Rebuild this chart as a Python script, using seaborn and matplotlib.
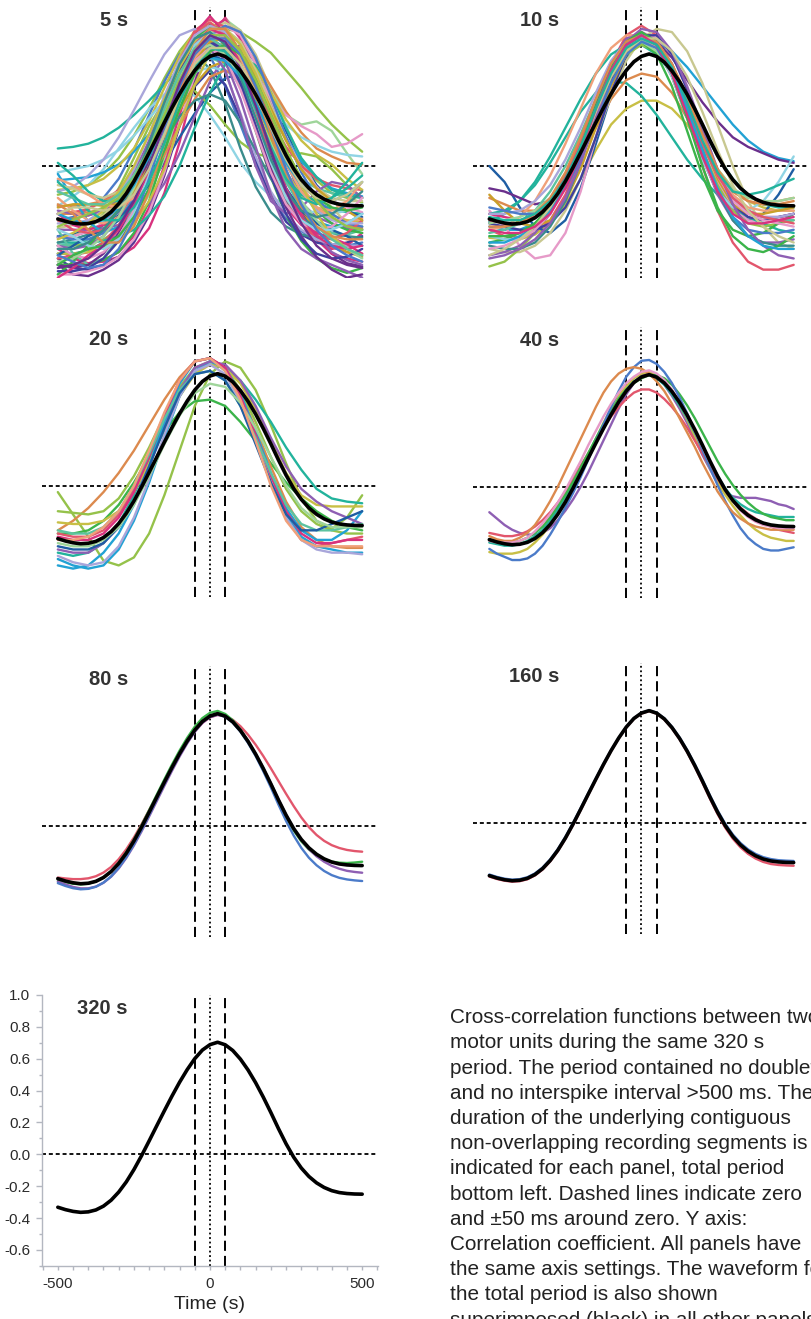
import numpy as np
import pandas as pd
import matplotlib
matplotlib.use("Agg")
import matplotlib.pyplot as plt
from matplotlib.ticker import FixedLocator, MultipleLocator
import seaborn as sns

# ---------------------------------------------------------------------------
# Cross-correlation waveforms, lag -500 ... 500.
# Coarse segments are sampled every 50, fine ones every 25.
# ---------------------------------------------------------------------------

# Whole 320 s period (black reference waveform, drawn in every panel)
TOTAL_320S = [-0.332, -0.347, -0.358, -0.364, -0.361, -0.349, -0.325, -0.288, -0.237, -0.173,
              -0.096, -0.009, 0.084, 0.179, 0.273, 0.365, 0.452, 0.531, 0.600, 0.654,
              0.688, 0.703, 0.687, 0.651, 0.597, 0.529, 0.449, 0.359, 0.262, 0.161,
              0.066, -0.018, -0.086, -0.139, -0.179, -0.208, -0.228, -0.240, -0.246, -0.249,
              -0.250]

SEG_5S = [
    [-0.45,-0.44,-0.41,-0.36,-0.29,-0.14,0.06,0.31,0.55,0.74,0.80,0.74,0.56,0.33,0.09,-0.10,-0.23,-0.32,-0.36,-0.39,-0.40],
    [-0.52,-0.58,-0.61,-0.60,-0.57,-0.51,-0.39,-0.17,0.15,0.52,0.81,0.93,0.81,0.53,0.18,-0.14,-0.34,-0.46,-0.52,-0.50,-0.42],
    [-0.18,-0.16,-0.12,-0.05,0.05,0.19,0.36,0.55,0.72,0.84,0.88,0.83,0.71,0.53,0.34,0.16,0.01,-0.09,-0.17,-0.20,-0.23],
    [-0.62,-0.68,-0.69,-0.65,-0.59,-0.48,-0.31,-0.06,0.25,0.54,0.77,0.85,0.78,0.55,0.27,-0.04,-0.28,-0.44,-0.55,-0.61,-0.63],
    [-0.34,-0.32,-0.27,-0.20,-0.08,0.10,0.32,0.53,0.70,0.75,0.69,0.50,0.26,0.01,-0.19,-0.33,-0.41,-0.46,-0.49,-0.50,-0.48],
    [0.11,0.12,0.14,0.18,0.24,0.32,0.41,0.51,0.61,0.68,0.70,0.65,0.50,0.31,0.11,-0.05,-0.16,-0.23,-0.27,-0.29,-0.30],
    [-0.25,-0.19,-0.12,-0.02,0.11,0.24,0.36,0.45,0.48,0.44,0.32,0.18,0.02,-0.10,-0.19,-0.25,-0.28,-0.29,-0.30,-0.28,-0.24],
    [-0.44,-0.43,-0.40,-0.37,-0.31,-0.23,-0.12,0.02,0.18,0.33,0.46,0.55,0.58,0.53,0.39,0.22,0.03,-0.12,-0.22,-0.28,-0.32],
    [-0.50,-0.50,-0.49,-0.46,-0.40,-0.31,-0.16,0.06,0.33,0.59,0.79,0.86,0.84,0.78,0.71,0.60,0.49,0.37,0.26,0.17,0.09],
    [-0.45,-0.44,-0.40,-0.30,-0.14,0.05,0.25,0.41,0.50,0.47,0.38,0.26,0.15,0.08,0.05,0.06,0.08,0.06,-0.02,-0.12,-0.20],
    [-0.55,-0.55,-0.54,-0.51,-0.45,-0.34,-0.18,0.05,0.35,0.63,0.85,0.92,0.85,0.68,0.48,0.32,0.26,0.28,0.22,0.08,-0.05],
    [-0.62,-0.62,-0.61,-0.59,-0.54,-0.44,-0.26,0.00,0.32,0.63,0.86,0.92,0.80,0.56,0.25,-0.06,-0.30,-0.46,-0.55,-0.58,-0.60],
    [-0.39,-0.37,-0.35,-0.31,-0.22,-0.10,0.07,0.28,0.50,0.71,0.85,0.90,0.85,0.70,0.48,0.25,0.04,-0.14,-0.26,-0.36,-0.40],
    [-0.30,-0.29,-0.27,-0.22,-0.15,-0.03,0.14,0.36,0.56,0.73,0.78,0.71,0.51,0.26,0.00,-0.22,-0.36,-0.46,-0.51,-0.54,-0.55],
    [-0.09,-0.08,-0.07,-0.04,0.01,0.09,0.20,0.33,0.47,0.60,0.69,0.72,0.67,0.54,0.36,0.18,0.03,-0.07,-0.14,-0.17,-0.19],
    [-0.58,-0.64,-0.65,-0.62,-0.57,-0.47,-0.30,-0.04,0.26,0.50,0.60,0.51,0.30,0.04,-0.19,-0.35,-0.43,-0.48,-0.50,-0.48,-0.44],
    [-0.25,-0.25,-0.24,-0.22,-0.18,-0.10,0.02,0.19,0.40,0.61,0.77,0.82,0.78,0.66,0.50,0.34,0.21,0.11,0.06,0.02,0.01],
    [-0.50,-0.49,-0.46,-0.42,-0.33,-0.20,-0.02,0.22,0.44,0.62,0.68,0.64,0.50,0.34,0.16,0.02,-0.08,-0.14,-0.17,-0.19,-0.20],
    [-0.40,-0.40,-0.40,-0.39,-0.37,-0.32,-0.24,-0.11,0.08,0.31,0.53,0.70,0.76,0.65,0.39,0.06,-0.23,-0.43,-0.54,-0.59,-0.62],
    [-0.15,-0.14,-0.12,-0.08,0.00,0.11,0.28,0.49,0.69,0.85,0.90,0.84,0.65,0.41,0.16,-0.04,-0.18,-0.26,-0.31,-0.34,-0.35],
    [-0.55,-0.55,-0.53,-0.48,-0.38,-0.20,0.06,0.36,0.60,0.70,0.61,0.39,0.11,-0.13,-0.29,-0.38,-0.43,-0.45,-0.45,-0.43,-0.38],
    [-0.68,-0.68,-0.66,-0.63,-0.57,-0.46,-0.29,-0.04,0.27,0.57,0.80,0.88,0.82,0.64,0.42,0.18,-0.01,-0.13,-0.22,-0.26,-0.29],
    [-0.04,-0.02,0.00,0.04,0.10,0.19,0.30,0.41,0.52,0.59,0.62,0.60,0.53,0.44,0.35,0.26,0.18,0.13,0.09,0.07,0.06],
    [-0.45,-0.44,-0.41,-0.36,-0.27,-0.13,0.08,0.34,0.58,0.78,0.84,0.81,0.70,0.57,0.43,0.32,0.25,0.20,0.12,0.14,0.20],
    [-0.62,-0.62,-0.62,-0.59,-0.54,-0.42,-0.22,0.08,0.42,0.69,0.80,0.73,0.50,0.22,-0.07,-0.31,-0.47,-0.58,-0.64,-0.67,-0.64],
    [-0.34,-0.33,-0.31,-0.28,-0.21,-0.12,0.01,0.18,0.35,0.51,0.62,0.66,0.60,0.41,0.18,-0.07,-0.27,-0.41,-0.49,-0.54,-0.57],
    [-0.58,-0.56,-0.54,-0.48,-0.37,-0.21,0.03,0.34,0.62,0.85,0.92,0.87,0.71,0.50,0.29,0.12,0.00,-0.08,-0.12,-0.14,-0.15],
    [-0.16,-0.13,-0.06,0.04,0.18,0.35,0.53,0.70,0.82,0.86,0.79,0.59,0.33,0.06,-0.16,-0.31,-0.40,-0.46,-0.49,-0.50,-0.50],
    [-0.48,-0.48,-0.48,-0.47,-0.44,-0.40,-0.31,-0.19,0.00,0.24,0.46,0.64,0.70,0.63,0.46,0.24,0.05,-0.07,-0.15,-0.18,-0.20],
    [-0.30,-0.30,-0.29,-0.27,-0.24,-0.17,-0.07,0.07,0.25,0.42,0.56,0.60,0.55,0.40,0.21,0.01,-0.15,-0.26,-0.33,-0.37,-0.39],
    [-0.48,-0.46,-0.43,-0.37,-0.28,-0.16,-0.01,0.16,0.31,0.41,0.45,0.41,0.27,0.10,-0.08,-0.22,-0.32,-0.39,-0.42,-0.44,-0.45],
    [-0.30,-0.37,-0.40,-0.37,-0.32,-0.21,-0.03,0.26,0.58,0.83,0.94,0.83,0.57,0.23,-0.06,-0.26,-0.37,-0.42,-0.45,-0.49,-0.55],
    [-0.55,-0.55,-0.54,-0.51,-0.46,-0.36,-0.22,-0.02,0.26,0.51,0.71,0.78,0.74,0.61,0.46,0.29,0.16,0.07,0.01,-0.08,-0.15],
    [-0.05,-0.20,-0.35,-0.42,-0.38,-0.22,0.02,0.30,0.56,0.74,0.80,0.74,0.56,0.31,0.06,-0.14,-0.28,-0.35,-0.38,-0.36,-0.30],
    [-0.40,-0.55,-0.62,-0.58,-0.45,-0.26,0.00,0.30,0.58,0.78,0.87,0.84,0.70,0.47,0.20,-0.05,-0.24,-0.36,-0.42,-0.43,-0.40],
    [-0.28,-0.30,-0.31,-0.28,-0.20,-0.05,0.16,0.40,0.62,0.76,0.78,0.66,0.42,0.12,-0.18,-0.40,-0.52,-0.58,-0.62,-0.66,-0.70],
    [-0.50,-0.52,-0.50,-0.44,-0.33,-0.16,0.06,0.32,0.56,0.72,0.74,0.60,0.32,0.00,-0.22,-0.30,-0.26,-0.16,-0.10,-0.12,-0.20],
    [-0.62,-0.64,-0.62,-0.55,-0.42,-0.22,0.05,0.35,0.60,0.76,0.80,0.72,0.52,0.26,-0.02,-0.26,-0.44,-0.57,-0.65,-0.70,-0.68],
    [-0.68,-0.60,-0.50,-0.40,-0.27,-0.10,0.12,0.38,0.62,0.80,0.88,0.85,0.72,0.50,0.25,0.02,-0.16,-0.28,-0.36,-0.40,-0.42],
    [-0.20,-0.28,-0.34,-0.36,-0.32,-0.20,-0.02,0.22,0.46,0.66,0.78,0.80,0.72,0.55,0.32,0.08,-0.12,-0.26,-0.33,-0.35,-0.33],
    [0.02,-0.06,-0.16,-0.22,-0.22,-0.12,0.06,0.30,0.53,0.70,0.76,0.70,0.54,0.32,0.10,-0.08,-0.18,-0.22,-0.20,-0.14,-0.06],
    [-0.44,-0.46,-0.46,-0.42,-0.34,-0.20,0.00,0.24,0.48,0.68,0.82,0.88,0.84,0.68,0.44,0.18,-0.04,-0.20,-0.30,-0.36,-0.38],
    [-0.56,-0.50,-0.44,-0.40,-0.34,-0.22,-0.04,0.20,0.44,0.62,0.70,0.66,0.52,0.30,0.06,-0.14,-0.28,-0.36,-0.40,-0.44,-0.50],
    [-0.34,-0.40,-0.42,-0.40,-0.32,-0.16,0.08,0.38,0.66,0.84,0.90,0.82,0.62,0.34,0.04,-0.20,-0.36,-0.44,-0.46,-0.42,-0.34],
    [-0.12,-0.14,-0.18,-0.20,-0.16,-0.06,0.12,0.34,0.56,0.74,0.84,0.86,0.78,0.60,0.38,0.16,-0.02,-0.14,-0.20,-0.22,-0.22],
    [-0.66,-0.66,-0.64,-0.58,-0.47,-0.30,-0.06,0.22,0.50,0.70,0.78,0.72,0.52,0.24,-0.06,-0.30,-0.46,-0.55,-0.58,-0.57,-0.52],
    [-0.26,-0.24,-0.24,-0.25,-0.24,-0.16,0.00,0.22,0.46,0.66,0.78,0.80,0.72,0.56,0.36,0.16,-0.02,-0.14,-0.22,-0.28,-0.34],
    [-0.50,-0.56,-0.58,-0.54,-0.44,-0.28,-0.06,0.20,0.46,0.66,0.74,0.68,0.48,0.22,-0.04,-0.24,-0.36,-0.40,-0.38,-0.30,-0.20],
    [-0.36,-0.36,-0.34,-0.28,-0.18,-0.02,0.20,0.44,0.66,0.82,0.88,0.84,0.70,0.48,0.24,0.02,-0.16,-0.28,-0.34,-0.36,-0.36],
    [-0.60,-0.58,-0.52,-0.44,-0.32,-0.14,0.10,0.36,0.58,0.72,0.76,0.70,0.56,0.36,0.14,-0.06,-0.22,-0.34,-0.44,-0.52,-0.58],
    [-0.08,-0.12,-0.18,-0.24,-0.26,-0.20,-0.04,0.20,0.46,0.68,0.80,0.80,0.68,0.48,0.24,0.02,-0.16,-0.26,-0.28,-0.22,-0.10],
    [-0.46,-0.42,-0.36,-0.28,-0.16,0.00,0.20,0.42,0.62,0.78,0.86,0.86,0.76,0.58,0.34,0.10,-0.12,-0.30,-0.44,-0.52,-0.56],
    [-0.70,-0.64,-0.56,-0.50,-0.40,-0.24,-0.02,0.26,0.54,0.76,0.86,0.82,0.64,0.38,0.10,-0.14,-0.32,-0.44,-0.50,-0.52,-0.50],
    [-0.30,-0.34,-0.36,-0.34,-0.26,-0.12,0.06,0.28,0.48,0.62,0.68,0.66,0.56,0.40,0.20,0.02,-0.12,-0.20,-0.22,-0.18,-0.10],
    [-0.40,-0.44,-0.50,-0.52,-0.46,-0.30,-0.06,0.24,0.54,0.76,0.84,0.78,0.58,0.30,0.02,-0.20,-0.34,-0.40,-0.40,-0.36,-0.30],
    [-0.16,-0.20,-0.24,-0.24,-0.18,-0.06,0.12,0.36,0.58,0.74,0.80,0.74,0.58,0.36,0.12,-0.10,-0.26,-0.38,-0.46,-0.52,-0.56],
    [-0.62,-0.56,-0.52,-0.50,-0.44,-0.32,-0.14,0.10,0.36,0.58,0.72,0.76,0.70,0.54,0.32,0.10,-0.08,-0.20,-0.26,-0.28,-0.26],
    [-0.24,-0.30,-0.40,-0.48,-0.48,-0.38,-0.16,0.14,0.46,0.72,0.86,0.86,0.72,0.48,0.20,-0.06,-0.26,-0.38,-0.44,-0.46,-0.46],
    [-0.52,-0.52,-0.48,-0.40,-0.28,-0.10,0.14,0.40,0.64,0.80,0.84,0.76,0.56,0.30,0.04,-0.16,-0.28,-0.32,-0.30,-0.24,-0.16],
    [-0.56,-0.60,-0.64,-0.62,-0.52,-0.34,-0.08,0.22,0.50,0.70,0.80,0.80,0.70,0.50,0.24,-0.02,-0.24,-0.40,-0.50,-0.56,-0.60],
    [-0.10,-0.18,-0.28,-0.34,-0.34,-0.26,-0.10,0.14,0.40,0.62,0.74,0.72,0.58,0.36,0.12,-0.08,-0.20,-0.24,-0.20,-0.10,0.02],
    [-0.38,-0.34,-0.30,-0.26,-0.20,-0.08,0.10,0.32,0.54,0.72,0.82,0.82,0.72,0.54,0.32,0.10,-0.08,-0.22,-0.32,-0.38,-0.40],
    [-0.64,-0.62,-0.58,-0.50,-0.38,-0.22,0.00,0.26,0.52,0.72,0.82,0.78,0.62,0.38,0.10,-0.16,-0.36,-0.50,-0.58,-0.62,-0.64],
    [-0.30,-0.26,-0.26,-0.28,-0.26,-0.18,-0.02,0.20,0.44,0.64,0.74,0.74,0.64,0.46,0.24,0.04,-0.12,-0.20,-0.22,-0.18,-0.10],
]
COLORS_5S = [3, 9, 8, 10, 1, 6, 12, 11, 8, 8, 21, 9, 14, 0, 7, 19,
             4, 15, 3, 5, 17, 13, 12, 13, 2, 16, 0, 20, 6, 4, 17, 9,
             5, 7, 15, 3, 3, 10, 2, 18, 6, 1, 11, 0, 14, 19, 16, 13,
             20, 21, 18, 5, 9, 7, 12, 15, 2, 4, 17, 1, 6, 8, 10, 14]

SEG_10S = [
    [-0.40,-0.44,-0.45,-0.42,-0.34,-0.18,0.06,0.36,0.64,0.82,0.88,0.82,0.62,0.32,0.00,-0.28,-0.48,-0.60,-0.65,-0.65,-0.62],
    [-0.38,-0.40,-0.40,-0.36,-0.26,-0.10,0.12,0.36,0.58,0.72,0.78,0.78,0.72,0.62,0.50,0.38,0.26,0.16,0.09,0.05,0.03],
    [-0.45,-0.46,-0.46,-0.43,-0.36,-0.24,-0.08,0.10,0.26,0.36,0.41,0.41,0.36,0.26,0.12,-0.02,-0.14,-0.22,-0.26,-0.28,-0.28],
    [0.00,-0.10,-0.26,-0.38,-0.42,-0.34,-0.14,0.14,0.44,0.68,0.80,0.78,0.64,0.40,0.12,-0.12,-0.28,-0.34,-0.30,-0.18,-0.02],
    [-0.28,-0.38,-0.50,-0.58,-0.56,-0.42,-0.16,0.18,0.50,0.74,0.84,0.80,0.64,0.40,0.14,-0.10,-0.26,-0.34,-0.36,-0.34,-0.30],
    [-0.30,-0.28,-0.22,-0.12,0.02,0.18,0.34,0.46,0.53,0.52,0.44,0.32,0.18,0.04,-0.08,-0.18,-0.26,-0.32,-0.36,-0.40,-0.42],
    [-0.35,-0.30,-0.22,-0.10,0.06,0.24,0.42,0.58,0.70,0.76,0.76,0.70,0.58,0.42,0.24,0.06,-0.08,-0.18,-0.24,-0.26,-0.26],
    [-0.20,-0.24,-0.28,-0.28,-0.22,-0.10,0.06,0.24,0.42,0.54,0.58,0.56,0.46,0.30,0.12,-0.04,-0.16,-0.22,-0.24,-0.22,-0.20],
    [-0.14,-0.16,-0.20,-0.24,-0.22,-0.12,0.06,0.30,0.54,0.72,0.80,0.78,0.68,0.54,0.40,0.28,0.18,0.12,0.08,0.04,0.02],
    [-0.52,-0.54,-0.54,-0.50,-0.42,-0.28,-0.08,0.18,0.44,0.66,0.80,0.86,0.84,0.72,0.52,0.26,0.00,-0.22,-0.38,-0.48,-0.52],
    [-0.63,-0.60,-0.52,-0.42,-0.28,-0.10,0.12,0.36,0.56,0.70,0.76,0.72,0.58,0.36,0.10,-0.12,-0.28,-0.36,-0.38,-0.36,-0.34],
    [-0.48,-0.46,-0.42,-0.36,-0.26,-0.10,0.12,0.38,0.60,0.74,0.78,0.70,0.50,0.22,-0.06,-0.28,-0.40,-0.44,-0.42,-0.36,-0.30],
    [-0.56,-0.54,-0.50,-0.42,-0.30,-0.12,0.12,0.40,0.64,0.80,0.84,0.78,0.60,0.34,0.06,-0.18,-0.34,-0.44,-0.48,-0.48,-0.46],
    [-0.30,-0.32,-0.34,-0.32,-0.26,-0.12,0.08,0.34,0.58,0.74,0.80,0.74,0.56,0.30,0.04,-0.16,-0.26,-0.30,-0.32,-0.32,-0.30],
    [-0.44,-0.46,-0.46,-0.40,-0.28,-0.10,0.14,0.40,0.62,0.76,0.80,0.74,0.56,0.30,0.04,-0.16,-0.26,-0.28,-0.22,-0.10,0.06],
    [-0.36,-0.38,-0.40,-0.40,-0.36,-0.26,-0.08,0.18,0.46,0.70,0.82,0.82,0.70,0.48,0.20,-0.06,-0.24,-0.32,-0.34,-0.32,-0.30],
    [-0.42,-0.40,-0.36,-0.28,-0.16,0.00,0.20,0.42,0.62,0.76,0.80,0.74,0.58,0.36,0.14,-0.06,-0.20,-0.28,-0.32,-0.34,-0.34],
    [-0.40,-0.38,-0.32,-0.22,-0.06,0.14,0.36,0.58,0.74,0.82,0.82,0.74,0.58,0.38,0.16,-0.04,-0.18,-0.26,-0.28,-0.28,-0.28],
    [-0.30,-0.30,-0.28,-0.22,-0.12,0.04,0.24,0.46,0.66,0.78,0.82,0.78,0.64,0.42,0.18,-0.04,-0.20,-0.28,-0.32,-0.32,-0.30],
    [-0.18,-0.28,-0.36,-0.38,-0.34,-0.22,-0.02,0.24,0.50,0.70,0.80,0.78,0.64,0.42,0.16,-0.08,-0.24,-0.30,-0.30,-0.28,-0.26],
    [-0.50,-0.52,-0.52,-0.48,-0.38,-0.22,0.02,0.30,0.56,0.74,0.82,0.78,0.62,0.38,0.10,-0.16,-0.34,-0.44,-0.48,-0.50,-0.50],
    [-0.52,-0.50,-0.46,-0.40,-0.30,-0.14,0.08,0.34,0.58,0.74,0.80,0.76,0.62,0.40,0.16,-0.06,-0.22,-0.30,-0.34,-0.36,-0.38],
    [-0.36,-0.34,-0.32,-0.28,-0.20,-0.06,0.14,0.38,0.60,0.74,0.78,0.72,0.58,0.38,0.16,-0.02,-0.14,-0.20,-0.22,-0.22,-0.20],
    [-0.26,-0.28,-0.30,-0.30,-0.26,-0.14,0.04,0.28,0.52,0.70,0.78,0.74,0.58,0.34,0.08,-0.16,-0.32,-0.40,-0.42,-0.42,-0.40],
    [-0.58,-0.56,-0.52,-0.46,-0.36,-0.20,0.02,0.30,0.58,0.78,0.86,0.84,0.72,0.50,0.24,-0.02,-0.24,-0.40,-0.50,-0.56,-0.58],
    [-0.34,-0.36,-0.36,-0.32,-0.22,-0.06,0.16,0.42,0.64,0.78,0.82,0.76,0.60,0.38,0.14,-0.06,-0.20,-0.28,-0.32,-0.34,-0.36],
    [-0.44,-0.44,-0.42,-0.36,-0.26,-0.10,0.12,0.38,0.62,0.78,0.84,0.78,0.58,0.30,0.00,-0.26,-0.44,-0.52,-0.54,-0.50,-0.44],
    [-0.38,-0.38,-0.36,-0.30,-0.20,-0.04,0.18,0.42,0.64,0.78,0.82,0.78,0.64,0.44,0.20,-0.02,-0.16,-0.22,-0.24,-0.24,-0.22],
    [-0.48,-0.48,-0.44,-0.38,-0.28,-0.12,0.10,0.36,0.60,0.76,0.82,0.76,0.60,0.36,0.10,-0.14,-0.32,-0.44,-0.50,-0.52,-0.52],
    [-0.56,-0.52,-0.46,-0.38,-0.26,-0.10,0.10,0.34,0.56,0.72,0.80,0.80,0.72,0.56,0.34,0.10,-0.12,-0.28,-0.38,-0.44,-0.48],
    [-0.40,-0.42,-0.42,-0.38,-0.30,-0.14,0.08,0.36,0.60,0.76,0.82,0.76,0.58,0.32,0.06,-0.16,-0.30,-0.36,-0.36,-0.34,-0.32],
    [-0.32,-0.34,-0.34,-0.30,-0.22,-0.08,0.12,0.36,0.58,0.74,0.80,0.76,0.62,0.40,0.16,-0.04,-0.16,-0.18,-0.16,-0.12,-0.08],
]
COLORS_10S = [0, 7, 5, 11, 13, 6, 6, 4, 10, 14, 8, 2, 3, 9, 12, 19,
              15, 18, 20, 16, 17, 13, 21, 1, 3, 0, 2, 4, 7, 14, 9, 6]

SEG_20S = [
    [-0.04,-0.18,-0.32,-0.47,-0.50,-0.45,-0.30,-0.06,0.22,0.50,0.70,0.78,0.74,0.60,0.38,0.14,-0.08,-0.22,-0.27,-0.20,-0.06],
    [-0.30,-0.30,-0.28,-0.22,-0.12,0.02,0.18,0.34,0.46,0.53,0.54,0.50,0.40,0.28,0.14,0.02,-0.08,-0.16,-0.22,-0.26,-0.28],
    [-0.42,-0.44,-0.42,-0.36,-0.24,-0.06,0.16,0.40,0.60,0.72,0.76,0.74,0.66,0.54,0.40,0.24,0.10,-0.02,-0.08,-0.10,-0.11],
    [-0.28,-0.22,-0.14,-0.04,0.08,0.22,0.38,0.54,0.68,0.78,0.80,0.74,0.58,0.36,0.12,-0.10,-0.26,-0.34,-0.38,-0.39,-0.39],
    [-0.16,-0.17,-0.18,-0.16,-0.08,0.06,0.24,0.44,0.62,0.74,0.78,0.74,0.60,0.40,0.18,-0.02,-0.16,-0.24,-0.28,-0.30,-0.30],
    [-0.23,-0.24,-0.24,-0.22,-0.16,-0.04,0.14,0.36,0.56,0.70,0.76,0.74,0.64,0.48,0.28,0.08,-0.06,-0.12,-0.13,-0.13,-0.13],
    [-0.46,-0.50,-0.52,-0.50,-0.40,-0.22,0.02,0.30,0.56,0.72,0.78,0.74,0.58,0.34,0.08,-0.14,-0.28,-0.34,-0.34,-0.28,-0.16],
    [-0.30,-0.32,-0.32,-0.28,-0.18,-0.02,0.20,0.44,0.66,0.78,0.80,0.74,0.56,0.30,0.02,-0.20,-0.34,-0.38,-0.36,-0.34,-0.32],
    [-0.40,-0.42,-0.42,-0.36,-0.26,-0.10,0.12,0.38,0.60,0.74,0.78,0.76,0.66,0.50,0.30,0.12,-0.02,-0.10,-0.16,-0.20,-0.24],
    [-0.50,-0.52,-0.50,-0.42,-0.30,-0.12,0.12,0.40,0.64,0.78,0.80,0.72,0.54,0.28,0.02,-0.18,-0.32,-0.38,-0.40,-0.42,-0.42],
    [-0.32,-0.34,-0.34,-0.30,-0.20,-0.04,0.18,0.44,0.66,0.78,0.80,0.74,0.56,0.32,0.06,-0.16,-0.30,-0.36,-0.36,-0.34,-0.34],
    [-0.44,-0.48,-0.50,-0.48,-0.38,-0.20,0.04,0.32,0.56,0.72,0.76,0.70,0.52,0.28,0.02,-0.20,-0.34,-0.40,-0.42,-0.42,-0.43],
    [-0.28,-0.30,-0.30,-0.26,-0.16,0.00,0.20,0.42,0.60,0.70,0.72,0.66,0.50,0.30,0.08,-0.12,-0.24,-0.28,-0.28,-0.26,-0.24],
    [-0.38,-0.40,-0.40,-0.36,-0.26,-0.10,0.12,0.36,0.58,0.70,0.72,0.66,0.50,0.26,0.02,-0.18,-0.28,-0.28,-0.24,-0.20,-0.16],
    [-0.36,-0.38,-0.38,-0.34,-0.26,-0.12,0.06,0.26,0.44,0.58,0.64,0.62,0.52,0.36,0.18,0.00,-0.14,-0.22,-0.26,-0.26,-0.26],
    [-0.34,-0.34,-0.32,-0.26,-0.16,0.00,0.22,0.46,0.66,0.78,0.80,0.72,0.54,0.28,0.00,-0.22,-0.34,-0.38,-0.38,-0.38,-0.38],
]
COLORS_20S = [8, 2, 6, 4, 8, 5, 7, 0, 3, 7, 9, 20, 15, 11, 21, 18]

SEG_40S = [
    [-0.16,-0.20,-0.24,-0.27,-0.29,-0.30,-0.30,-0.29,-0.26,-0.21,-0.15,-0.08,0.00,0.09,0.19,0.29,0.39,0.49,0.58,0.65,
     0.70,0.71,0.69,0.64,0.57,0.49,0.40,0.30,0.20,0.11,0.02,-0.04,-0.06,-0.07,-0.07,-0.07,-0.08,-0.09,-0.11,-0.12,-0.14],
    [-0.41,-0.42,-0.42,-0.42,-0.41,-0.39,-0.35,-0.30,-0.24,-0.16,-0.08,0.01,0.10,0.20,0.30,0.40,0.49,0.57,0.63,0.68,
     0.71,0.72,0.70,0.66,0.59,0.51,0.42,0.32,0.22,0.12,0.03,-0.05,-0.12,-0.18,-0.23,-0.27,-0.30,-0.32,-0.33,-0.34,-0.34],
    [-0.29,-0.30,-0.31,-0.31,-0.30,-0.28,-0.25,-0.21,-0.16,-0.10,-0.03,0.05,0.13,0.21,0.29,0.37,0.44,0.50,0.55,0.59,
     0.61,0.61,0.59,0.55,0.50,0.44,0.37,0.29,0.21,0.13,0.05,-0.02,-0.08,-0.13,-0.17,-0.20,-0.23,-0.25,-0.27,-0.28,-0.29],
    [-0.35,-0.36,-0.37,-0.37,-0.36,-0.34,-0.31,-0.27,-0.21,-0.14,-0.06,0.02,0.11,0.20,0.30,0.39,0.47,0.55,0.61,0.66,
     0.69,0.70,0.68,0.64,0.58,0.51,0.43,0.34,0.25,0.16,0.07,-0.01,-0.07,-0.11,-0.14,-0.16,-0.17,-0.18,-0.19,-0.19,-0.19],
    [-0.33,-0.34,-0.35,-0.35,-0.34,-0.32,-0.29,-0.25,-0.19,-0.12,-0.05,0.03,0.12,0.21,0.30,0.39,0.47,0.55,0.61,0.65,
     0.68,0.70,0.70,0.68,0.64,0.58,0.51,0.43,0.34,0.25,0.16,0.08,0.01,-0.05,-0.10,-0.14,-0.17,-0.19,-0.20,-0.21,-0.21],
    [-0.39,-0.42,-0.44,-0.46,-0.46,-0.45,-0.42,-0.37,-0.30,-0.22,-0.13,-0.04,0.06,0.17,0.28,0.39,0.50,0.60,0.69,0.75,
     0.79,0.795,0.77,0.72,0.65,0.56,0.46,0.35,0.23,0.12,0.01,-0.09,-0.18,-0.26,-0.32,-0.36,-0.39,-0.40,-0.40,-0.39,-0.38],
    [-0.31,-0.33,-0.34,-0.34,-0.32,-0.29,-0.24,-0.17,-0.09,0.00,0.10,0.20,0.30,0.40,0.50,0.59,0.66,0.71,0.74,0.75,
     0.74,0.71,0.66,0.60,0.52,0.43,0.34,0.25,0.15,0.06,-0.03,-0.10,-0.16,-0.20,-0.23,-0.25,-0.26,-0.27,-0.27,-0.27,-0.27],
    [-0.34,-0.35,-0.35,-0.35,-0.34,-0.32,-0.28,-0.23,-0.17,-0.10,-0.02,0.07,0.16,0.26,0.35,0.44,0.52,0.59,0.65,0.69,
     0.72,0.73,0.71,0.67,0.61,0.53,0.44,0.35,0.25,0.15,0.06,-0.02,-0.09,-0.15,-0.19,-0.22,-0.24,-0.25,-0.26,-0.26,-0.26],
]
COLORS_40S = [3, 5, 0, 6, 2, 1, 4, 13]

SEG_80S = [
    [-0.325,-0.331,-0.335,-0.335,-0.330,-0.317,-0.294,-0.259,-0.210,-0.148,-0.074,0.009,0.098,0.189,0.280,0.368,0.451,0.527,0.593,0.645,
     0.680,0.695,0.689,0.664,0.624,0.571,0.508,0.437,0.360,0.280,0.200,0.123,0.052,-0.009,-0.058,-0.095,-0.122,-0.140,-0.152,-0.159,-0.163],
    [-0.340,-0.354,-0.364,-0.368,-0.364,-0.350,-0.324,-0.285,-0.232,-0.166,-0.087,0.002,0.097,0.194,0.290,0.383,0.471,0.551,0.621,0.675,
     0.708,0.720,0.701,0.661,0.603,0.530,0.446,0.353,0.254,0.152,0.055,-0.030,-0.098,-0.149,-0.186,-0.210,-0.225,-0.232,-0.234,-0.231,-0.226],
    [-0.350,-0.368,-0.384,-0.393,-0.393,-0.382,-0.358,-0.320,-0.268,-0.202,-0.124,-0.036,0.058,0.154,0.250,0.344,0.434,0.516,0.588,0.645,
     0.681,0.695,0.684,0.651,0.599,0.532,0.453,0.364,0.267,0.166,0.069,-0.018,-0.090,-0.147,-0.192,-0.226,-0.252,-0.270,-0.283,-0.290,-0.295],
    [-0.360,-0.378,-0.392,-0.399,-0.396,-0.383,-0.357,-0.318,-0.264,-0.197,-0.117,-0.027,0.068,0.166,0.263,0.358,0.447,0.528,0.598,0.653,
     0.687,0.701,0.684,0.646,0.590,0.519,0.437,0.342,0.240,0.132,0.030,-0.062,-0.139,-0.201,-0.248,-0.284,-0.310,-0.327,-0.337,-0.343,-0.347],
]
COLORS_80S = [0, 2, 3, 1]

SEG_160S = [
    [-0.338,-0.353,-0.364,-0.370,-0.367,-0.355,-0.331,-0.294,-0.243,-0.179,-0.102,-0.015,0.078,0.174,0.268,0.361,0.449,0.528,0.597,0.651,
     0.685,0.700,0.684,0.647,0.592,0.523,0.442,0.351,0.252,0.150,0.054,-0.031,-0.100,-0.154,-0.195,-0.225,-0.246,-0.259,-0.265,-0.268,-0.270],
    [-0.325,-0.340,-0.351,-0.357,-0.354,-0.342,-0.318,-0.281,-0.230,-0.166,-0.089,-0.002,0.091,0.185,0.278,0.369,0.455,0.533,0.602,0.656,
     0.690,0.705,0.690,0.655,0.602,0.535,0.456,0.367,0.271,0.171,0.077,-0.006,-0.074,-0.127,-0.167,-0.196,-0.216,-0.228,-0.235,-0.238,-0.240],
]
COLORS_160S = [0, 1]

PANEL_LABELS = ["5 s", "10 s", "20 s", "40 s", "80 s", "160 s", "320 s"]

Y_TICKS = [-0.6, -0.4, -0.2, 0.0, 0.2, 0.4, 0.6, 0.8, 1.0]
Y_TICK_LABELS = ["-0.6", "-0.4", "-0.2", "0.0", "0.2", "0.4", "0.6", "0.8", "1.0"]
X_TICKS = [-500, 0, 500]
X_TICK_LABELS = ["-500", "0", "500"]

CAPTION = [
    "Cross-correlation functions between two",
    "motor units during the same 320 s",
    "period. The period contained no doublets",
    "and no interspike interval >500 ms. The",
    "duration of the underlying contiguous",
    "non-overlapping recording segments is",
    "indicated for each panel, total period",
    "bottom left. Dashed lines indicate zero",
    "and \u00b150 ms around zero. Y axis:",
    "Correlation coefficient. All panels have",
    "the same axis settings. The waveform for",
    "the total period is also shown",
    "superimposed (black) in all other panels.",
]

PALETTE = ["#e2566c", "#4b7bc9", "#3bb44a", "#8e5fb3", "#dc8a4e", "#c8bf45",
           "#22b39c", "#22a2d4", "#95c24a", "#d8327e", "#6a2f8c", "#1e5da3",
           "#8fd4e4", "#e69ac8", "#c8c890", "#5cc3a0", "#c9a02a", "#3a8c8c",
           "#f0a07a", "#3f3f9f", "#a9a6da", "#9fd59a"]

# ---------------------------------------------------------------------------
sns.set_theme(style="white")
plt.rcParams["font.family"] = ["Liberation Sans", "DejaVu Sans"]
plt.rcParams["axes.unicode_minus"] = False
plt.rcParams["lines.solid_joinstyle"] = "round"
plt.rcParams["lines.solid_capstyle"] = "round"

fig = plt.figure(figsize=(8.12, 13.19), dpi=100, facecolor="white")

W, H = 812.0, 1319.0
AX_W = 336.0 / W
AX_H = 271.0 / H
LEFT_COL = 42.0 / W
RIGHT_COL = 473.5 / W
# (left, bottom) of each panel in figure fraction
POSITIONS = [
    (LEFT_COL, 1 - 277.6 / H), (RIGHT_COL, 1 - 277.6 / H),
    (LEFT_COL, 1 - 597.3 / H), (RIGHT_COL, 1 - 598.3 / H),
    (LEFT_COL, 1 - 937.3 / H), (RIGHT_COL, 1 - 934.3 / H),
    (LEFT_COL, 1 - 1265.9 / H),
]

PANELS = [
    (SEG_5S, COLORS_5S), (SEG_10S, COLORS_10S), (SEG_20S, COLORS_20S),
    (SEG_40S, COLORS_40S), (SEG_80S, COLORS_80S), (SEG_160S, COLORS_160S),
    ([], []),
]

BLACK_LAGS = np.linspace(-500, 500, len(TOTAL_320S))


def reference_lines(ax):
    ax.axhline(0, color="black", lw=1.3, ls=(0, (2.2, 1.6)), zorder=1)
    ax.axvline(0, color="black", lw=1.3, ls=(0, (1.0, 1.5)), zorder=1)
    for x in (-50, 50):
        ax.axvline(x, color="black", lw=1.4, ls=(0, (5.2, 2.6)), zorder=1)


for idx, ((segs, cols), label, pos) in enumerate(zip(PANELS, PANEL_LABELS, POSITIONS)):
    ax = fig.add_axes([pos[0], pos[1], AX_W, AX_H])
    reference_lines(ax)

    if segs:
        frames = []
        for k, vals in enumerate(segs):
            frames.append(pd.DataFrame({
                "lag": np.linspace(-500, 500, len(vals)),
                "r": vals,
                "seg": f"s{k:02d}",
            }))
        df = pd.concat(frames, ignore_index=True)
        pal = {f"s{k:02d}": PALETTE[c] for k, c in enumerate(cols)}
        sns.lineplot(data=df, x="lag", y="r", hue="seg", palette=pal,
                     estimator=None, sort=False, legend=False, lw=1.7,
                     ax=ax, zorder=2)

    sns.lineplot(x=BLACK_LAGS, y=TOTAL_320S, color="black", lw=2.6,
                 estimator=None, sort=False, ax=ax, zorder=4)

    ax.set_xlim(-552, 552)
    ax.set_ylim(-0.7, 1.0)
    ax.text(-270, 0.88, label, ha="right", va="baseline", fontsize=14.5,
            fontweight="bold", color="#333333", zorder=5)
    ax.set_xlabel("")
    ax.set_ylabel("")

    if idx < 6:
        ax.set_axis_off()
    else:
        ax.patch.set_alpha(0)
        for side in ("top", "right"):
            ax.spines[side].set_visible(False)
        for side in ("left", "bottom"):
            ax.spines[side].set_color("#b3b7c0")
            ax.spines[side].set_linewidth(1.0)
        ax.yaxis.set_major_locator(FixedLocator(Y_TICKS))
        ax.set_yticklabels(Y_TICK_LABELS)
        ax.yaxis.set_minor_locator(MultipleLocator(0.1))
        ax.xaxis.set_major_locator(FixedLocator(X_TICKS))
        ax.set_xticklabels(X_TICK_LABELS)
        ax.xaxis.set_minor_locator(MultipleLocator(50))
        ax.tick_params(axis="y", which="major", direction="out", length=4.5, width=1.0,
                       color="#b3b7c0", labelsize=11, labelcolor="#2a2a2a", pad=4.0, left=True)
        ax.tick_params(axis="y", which="minor", direction="out", length=2.5, width=1.0,
                       color="#b3b7c0", left=True)
        ax.tick_params(axis="x", which="both", direction="out", length=2.8, width=1.0,
                       color="#b3b7c0", labelsize=11, labelcolor="#2a2a2a", pad=5.5, bottom=True)
        ax.set_xlabel("Time (s)", fontsize=14, color="#222222", labelpad=3.5)

# Caption block beside the last panel
x0 = 450.0 / W
for i, line in enumerate(CAPTION):
    y_px = 1023.3 + i * 25.2
    fig.text(x0, 1 - y_px / H, line, ha="left", va="baseline",
             fontsize=14.95, color="#222222")

fig.savefig("out.png", dpi=100, facecolor="white")
